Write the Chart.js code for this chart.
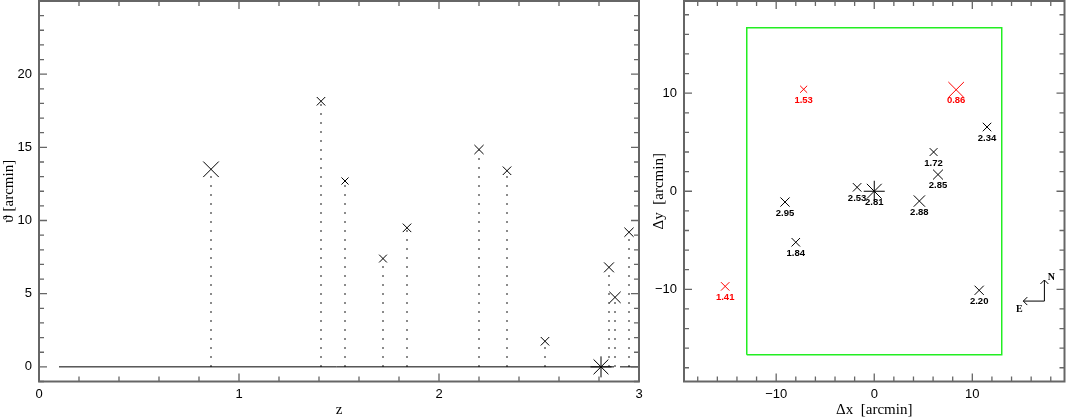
<!DOCTYPE html>
<html>
<head>
<meta charset="utf-8">
<script src="https://cdn.jsdelivr.net/npm/chart.js@4.4.1/dist/chart.umd.min.js"></script>
<style>
body{margin:0;background:#fff;}
#wrap{position:relative;width:1066px;height:419px;}
canvas{position:absolute;top:0;}
#left{left:0;}
#right{left:650px;}
</style>
</head>
<body>
<div id="wrap">
<canvas id="left" width="650" height="419"></canvas>
<canvas id="right" width="416" height="419"></canvas>
</div>
<script>
// redshift of each source
const zs=[0.86,1.41,1.53,1.72,1.84,2.20,2.34,2.53,2.81,2.85,2.88,2.95];
// separation from the centre [arcmin]
const theta=[13.5,18.15,12.7,7.4,9.5,14.85,13.4,1.75,0,6.8,4.75,9.2];
// offsets on the sky [arcmin]
const dx=[8.35,-15.2,-7.2,6.05,-8.0,10.7,11.5,-1.75,0,6.5,4.6,-9.1];
const dy=[10.35,-9.7,10.4,4.0,-5.2,-10.1,6.55,0.4,0,1.7,-1.0,-1.1];
// symbol size and colour per source
const markSize=[11,6,5,5.5,6,6.5,6,6,10.5,7,8,6.5];
const markColor=['#ff0000','#ff0000','#ff0000','#000','#000','#000','#000','#000','#000','#000','#000','#000'];
const markStyle=zs.map(z=>z===2.81?'star':'crossRot');

// theta = 0 reference line
const baseZ=[0.1,2.875,2.89,2.905,3.0];
const baseT=[0,0,null,0,0];

// field of view box
const fieldX=[-13,13,13,-13,-13];
const fieldY=[-16.67,-16.67,16.67,16.67,-16.67];

// tick labels
const zTicks=[0,1,2,3];
const thetaTicks=[0,5,10,15,20];
const offTicks=[-10,0,10];

// compass
const compassAt=[17.35,-11.2];
const compassLen=2.15;

const sans='"Liberation Sans", Arial, sans-serif';
const serif='"Liberation Serif", "DejaVu Serif", serif';

const framePlugin={
  id:'frame',
  afterDatasetsDraw(chart,args,o){
    const {ctx,chartArea:a,scales:{x,y}}=chart;
    ctx.save();
    ctx.strokeStyle='#666';
    ctx.lineWidth=1.3;
    ctx.beginPath();
    for(let n=Math.ceil(x.min/o.xStep-1e-6);n*o.xStep<=x.max+1e-6;n++){
      const v=n*o.xStep, p=x.getPixelForValue(v);
      const L=o.xMajor.some(m=>Math.abs(m-v)<1e-6)?8:5;
      ctx.moveTo(p,a.bottom);ctx.lineTo(p,a.bottom-L);
      ctx.moveTo(p,a.top);ctx.lineTo(p,a.top+L);
    }
    for(let n=Math.ceil(y.min/o.yStep-1e-6);n*o.yStep<=y.max+1e-6;n++){
      const v=n*o.yStep, p=y.getPixelForValue(v);
      const L=o.yMajor.some(m=>Math.abs(m-v)<1e-6)?8:5;
      ctx.moveTo(a.left,p);ctx.lineTo(a.left+L,p);
      ctx.moveTo(a.right,p);ctx.lineTo(a.right-L,p);
    }
    ctx.stroke();
    ctx.lineWidth=2;
    ctx.strokeRect(a.left,a.top,a.right-a.left,a.bottom-a.top);
    ctx.restore();
  }
};

const minus=v=>String(v).replace('-','\u2212');

function axis(min,max,ticks,title,w,h){
  return {
    type:'linear',min:min,max:max,
    grid:{display:false,drawTicks:false},
    border:{display:false},
    afterBuildTicks:s=>{s.ticks=ticks.map(v=>({value:v}));},
    afterFit:s=>{
      if(w) s.width=w;
      if(h) s.height=h;
      s.paddingTop=0;s.paddingBottom=0;s.paddingLeft=0;s.paddingRight=0;
    },
    ticks:{color:'#000',font:{family:sans,size:13},padding:w?7:5,callback:minus},
    title:{display:true,text:title,color:'#000',font:{family:serif,size:15},padding:0}
  };
}

const points=zs.map((z,i)=>({x:z,y:theta[i]}));
const drops=[];
zs.forEach((z,i)=>{ drops.push({x:z,y:0},{x:z,y:theta[i]},{x:z,y:null}); });

new Chart(document.getElementById('left'),{
  type:'scatter',
  data:{datasets:[
    {type:'line',data:baseZ.map((z,i)=>({x:z,y:baseT[i]})),borderColor:'#000',borderWidth:1,pointRadius:0,spanGaps:false},
    {type:'line',data:drops,borderColor:'#333',borderWidth:1.5,borderDash:[1.5,7.5],pointRadius:0,spanGaps:false},
    {data:points,pointStyle:markStyle,pointRadius:markSize,borderColor:'#000',backgroundColor:'#000',pointBorderWidth:1}
  ]},
  options:{
    responsive:false,animation:false,devicePixelRatio:1,
    layout:{autoPadding:false,padding:{top:1,right:11,left:0,bottom:0}},
    plugins:{legend:{display:false},tooltip:{enabled:false},
      frame:{xStep:0.2,xMajor:zTicks,yStep:1,yMajor:thetaTicks}},
    scales:{
      x:axis(0,3,zTicks,'z',0,37.5),
      y:axis(-1,25,thetaTicks,'\u03d1 [arcmin]',39,0)
    }
  },
  plugins:[framePlugin]
});

const labelPlugin={
  id:'zlabels',
  afterDatasetsDraw(chart){
    const {ctx,scales:{x,y}}=chart;
    ctx.save();
    ctx.font='bold 9.5px '+sans;
    ctx.textAlign='center';ctx.textBaseline='middle';
    zs.forEach((z,i)=>{
      ctx.fillStyle=markColor[i];
      ctx.fillText(z.toFixed(2),x.getPixelForValue(dx[i]),y.getPixelForValue(dy[i])+11);
    });
    // compass
    const ox=x.getPixelForValue(compassAt[0]), oy=y.getPixelForValue(compassAt[1]);
    const nx=ox, ny=y.getPixelForValue(compassAt[1]+compassLen);
    const ex=x.getPixelForValue(compassAt[0]-compassLen), ey=oy;
    ctx.strokeStyle='#000';ctx.lineWidth=1;
    ctx.beginPath();
    ctx.moveTo(nx,ny);ctx.lineTo(ox,oy);ctx.lineTo(ex,ey);
    ctx.moveTo(nx-4,ny+4);ctx.lineTo(nx,ny);ctx.lineTo(nx+4,ny+4);
    ctx.moveTo(ex+4,ey-4);ctx.lineTo(ex,ey);ctx.lineTo(ex+4,ey+4);
    ctx.stroke();
    ctx.fillStyle='#000';
    ctx.font='bold 10px '+serif;
    ctx.fillText('N',nx+7,ny-3);
    ctx.fillText('E',ex-4,ey+8);
    ctx.restore();
  }
};

new Chart(document.getElementById('right'),{
  type:'scatter',
  data:{datasets:[
    {type:'line',data:fieldX.map((v,i)=>({x:v,y:fieldY[i]})),borderColor:'#22ee22',borderWidth:1.5,pointRadius:0},
    {data:zs.map((z,i)=>({x:dx[i],y:dy[i]})),pointStyle:markStyle,pointRadius:markSize,borderColor:markColor,backgroundColor:markColor,pointBorderWidth:1}
  ]},
  options:{
    responsive:false,animation:false,devicePixelRatio:1,
    layout:{autoPadding:false,padding:{top:1,right:1.5,left:0,bottom:0}},
    plugins:{legend:{display:false},tooltip:{enabled:false},
      frame:{xStep:2,xMajor:offTicks,yStep:2,yMajor:offTicks}},
    scales:{
      x:axis(-19.4,19.4,offTicks,'\u0394x  [arcmin]',0,37.5),
      y:axis(-19.4,19.4,offTicks,'\u0394y  [arcmin]',34,0)
    }
  },
  plugins:[framePlugin,labelPlugin]
});
</script>
</body>
</html>
